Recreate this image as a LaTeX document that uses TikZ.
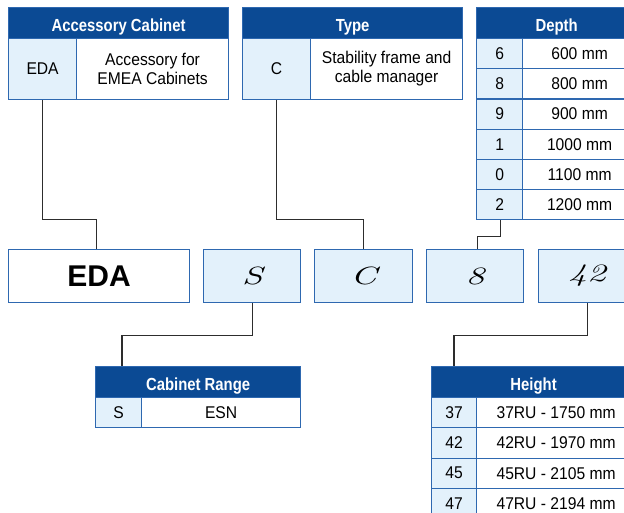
\documentclass[tikz,border=0pt]{standalone}
\usepackage{fontspec}
\usepackage{graphicx}
\newfontfamily\bodyfont{Liberation Sans}[FakeStretch=0.92]
\newfontfamily\hdrfont{Liberation Sans}[FakeStretch=0.85]
\newfontfamily\bigfont{Liberation Sans}
\definecolor{hblue}{RGB}{11,74,148}
\definecolor{lblue}{RGB}{227,241,251}
\definecolor{bblue}{RGB}{46,104,176}
\definecolor{dgray}{RGB}{45,45,45}
\newcommand\handtxt[1]{\scalebox{1.5}[1]{#1}}
\tikzset{
  cellbase/.style={draw=bblue, line width=1.2pt, anchor=north west, inner sep=0pt, align=center},
  hdr/.style={cellbase, fill=hblue, text=white, text height=16pt, text depth=0pt, font=\hdrfont\fontsize{17.5}{19}\selectfont\bfseries},
  keycell/.style={cellbase, fill=lblue, font=\bodyfont\fontsize{17}{18}\selectfont},
  valcell/.style={cellbase, fill=white, font=\bodyfont\fontsize{17}{18}\selectfont},
  codebox/.style={cellbase, fill=lblue, minimum height=53pt, font=\normalfont\itshape\fontsize{25}{26}\selectfont},
  link/.style={draw=dgray, line width=1.2pt}
}
\begin{document}
\begin{tikzpicture}[x=1pt,y=-1pt]
\useasboundingbox (0,0) rectangle (624,512);
\clip (0,0) rectangle (624,512);
% Accessory Cabinet
\node[hdr, minimum width=220pt, minimum height=31pt] (acch) at (8,7) {Accessory Cabinet};
\node[keycell, minimum width=68pt, minimum height=61pt] (acck) at (8,38) {EDA};
\node[valcell, minimum width=152pt, minimum height=61pt] (accv) at (76,38) {Accessory for\\[1pt]EMEA Cabinets};
% Type
\node[hdr, minimum width=220pt, minimum height=31pt] (typeh) at (242,7) {Type};
\node[keycell, minimum width=68pt, minimum height=61pt] (typek) at (242,38) {C};
\node[valcell, minimum width=152pt, minimum height=61pt] (typev) at (310,38) {Stability frame and\\[1pt]cable manager};
% Depth
\node[hdr, minimum width=160pt, minimum height=31pt] (deph) at (476,7) {Depth};
\foreach \k/\v [count=\i from 0] in {6/600 mm,8/800 mm,9/900 mm,1/1000 mm,0/1100 mm,2/1200 mm}{
  \node[keycell, minimum width=46pt, minimum height=30.17pt] (depk\i) at (476,38+30.17*\i) {\k};
  \node[valcell, minimum width=114pt, minimum height=30.17pt] (depv\i) at (522,38+30.17*\i) {\v};
}
% Code boxes
\node[cellbase, fill=white, minimum width=181pt, minimum height=53pt, font=\bigfont\fontsize{30}{32}\selectfont\bfseries] (eda) at (8,249) {EDA};
\node[codebox, minimum width=97pt] (s) at (203,249) {\handtxt{S}};
\node[codebox, minimum width=98pt] (c) at (314,249) {\handtxt{C}};
\node[codebox, minimum width=97pt] (eight) at (426,249) {\handtxt{8}};
\node[codebox, minimum width=97pt] (ft) at (538,249) {\handtxt{42}};
% Cabinet Range
\node[hdr, minimum width=205pt, minimum height=31pt] (crh) at (95,366) {Cabinet Range};
\node[keycell, minimum width=46pt, minimum height=30pt] (crk) at (95,397) {S};
\node[valcell, minimum width=159pt, minimum height=30pt] (crv) at (141,397) {ESN};
% Height
\node[hdr, minimum width=204pt, minimum height=31pt] (hh) at (431,366) {Height};
\foreach \k/\v [count=\i from 0] in {37/37RU - 1750 mm,42/42RU - 1970 mm,45/45RU - 2105 mm,47/47RU - 2194 mm}{
  \node[keycell, minimum width=45pt, minimum height=30.25pt] (hk\i) at (431,397+30.25*\i) {\k};
  \node[valcell, minimum width=159pt, minimum height=30.25pt] (hv\i) at (476,397+30.25*\i) {\v};
}
% Connectors
\draw[link] (acck.south) -- ++(0,119) -| ([xshift=-2.5pt]eda.north);
\draw[link] (typek.south) -- ++(0,119) -| (c.north);
\draw[link] ([xshift=1pt]depk5.south) -- ++(0,16) -| ([xshift=2.5pt]eight.north);
\draw[link] (s.south) -- ++(0,32) -| ([xshift=27pt]crh.north west);
\draw[link] (ft.south) -- ++(0,32) -| ([xshift=23pt]hh.north west);
\end{tikzpicture}
\end{document}
